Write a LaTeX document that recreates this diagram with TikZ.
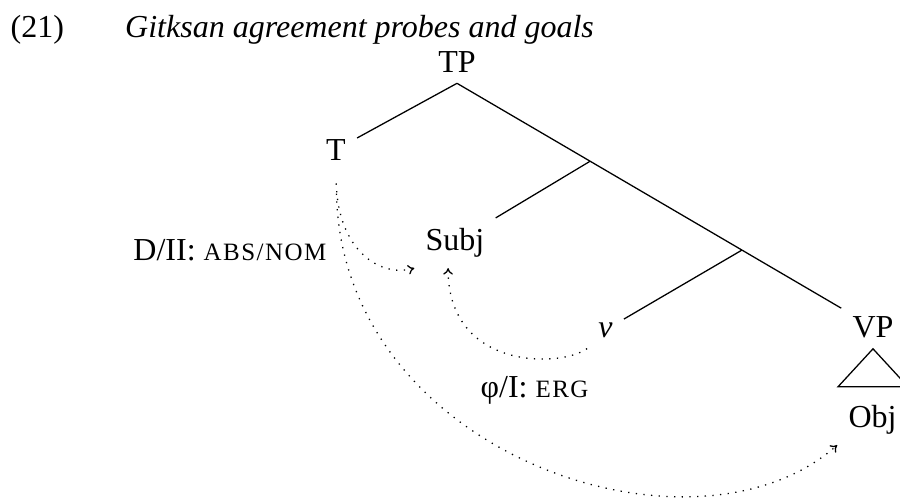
\documentclass[tikz,border=0pt]{standalone}
\usepackage{fontspec}
\setmainfont{Liberation Serif}
\usetikzlibrary{positioning,arrows.meta,calc}
\newcommand{\smcap}[1]{{\fontsize{7.8pt}{9pt}\selectfont\addfontfeature{LetterSpace=6}#1}}
\tikzset{
  cat/.style={anchor=base},
  lbl/.style={inner sep=0pt},
  probe/.style={dotted, -{To[length=2pt,width=3pt]}},
}
\begin{document}
\begin{tikzpicture}[x=0.3125pt, y=0.3125pt]
  \useasboundingbox (0,0) rectangle (900,-501);
  \node[lbl, anchor=base west] (num) at (10,-37) {(21)};
  \node[lbl, base right=18.75pt of num] (title) {\textit{Gitksan agreement probes and goals}};
  % tree
  \node[cat] (TP)   at (457,-72)   {TP};
  \node[cat] (T)    at (336,-160)  {T};
  \node[cat] (Subj) at (455,-250)  {Subj};
  \node[cat] (v)    at (605.5,-337) {\textit{v}};
  \node[cat] (VP)   at (873,-337)  {VP};
  \node[cat] (Obj)  at (872.5,-427) {Obj};
  \coordinate (j1) at ($(TP.south)!0.32!(VP)$);
  \coordinate (j2) at ($(TP.south)!0.685!(VP)$);
  \draw (TP.south) -- (T);
  \draw (TP.south) -- (j1) -- (j2) -- (VP);
  \draw (j1) -- (Subj);
  \draw (j2) -- (v);
  \draw (VP.south) -- ++(35,-38) -- ++(-70,0) -- cycle;
  % probes and goals
  \node[lbl, anchor=base east] (abs) at (327,-260) {D/II: \smcap{ABS/NOM}};
  \node[lbl, anchor=base west] (erg) at (480,-397) {φ/I: \smcap{ERG}};
  \draw[probe, shorten <=3.8pt] (T.south) .. controls (338,-250) and (380,-278) .. (Subj.south west);
  \draw[probe] (v.south west) .. controls (560,-368) and (448,-370) .. (Subj.255);
  \draw[probe, shorten <=7pt] (T.south) .. controls (342,-455) and (694,-572) .. (Obj.south west);
\end{tikzpicture}
\end{document}
